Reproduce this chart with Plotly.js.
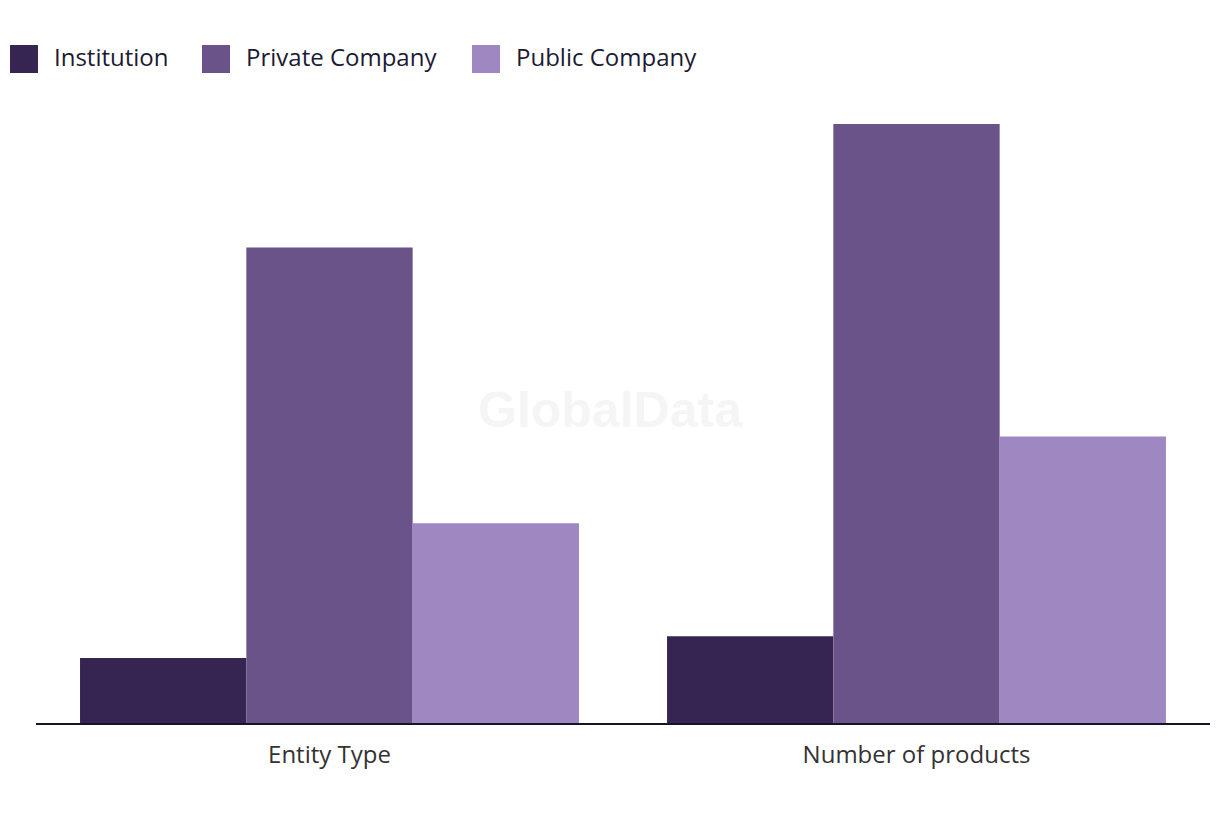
<!DOCTYPE html>
<html>
<head>
<meta charset="utf-8">
<script src="https://cdn.plot.ly/plotly-3.0.1.min.js"></script>
<style>html,body{margin:0;padding:0;background:#fff;}#chart{width:1220px;height:820px;}</style>
</head>
<body>
<div id="chart"></div>
<script>
const categories = ["Entity Type", "Number of products"];
const seriesNames = ["Institution", "Private Company", "Public Company"];
const institution = [3, 4];
const privateCompany = [21.9, 27.6];
const publicCompany = [9.2, 13.2];
const seriesColors = ["#362452", "#695388", "#9f88c1"];

const seriesValues = [institution, privateCompany, publicCompany];
const traces = seriesNames.map((name, i) => ({
  type: "bar",
  name: name,
  x: categories,
  y: seriesValues[i],
  marker: {color: seriesColors[i], line: {width: 0}},
  hoverinfo: "none",
  showlegend: false
}));

// Custom legend (large squares) placed above the plot in paper coordinates
const W = 1174, H = 623; // plot area size in px
const legendX = [10, 202, 472]; // px from page left for squares
const shapes = [];
const annotations = [];
seriesNames.forEach((name, i) => {
  const x0 = (legendX[i] - 36) / W;
  const x1 = (legendX[i] + 28 - 36) / W;
  shapes.push({type: "rect", xref: "paper", yref: "paper", x0: x0, x1: x1,
    y0: (723 - 73) / H, y1: (723 - 45) / H, fillcolor: seriesColors[i], line: {width: 0}});
  annotations.push({xref: "paper", yref: "paper", x: (legendX[i] + 42 - 36) / W, y: (723 - 57) / H,
    xanchor: "left", yanchor: "middle", showarrow: false, text: name,
    font: {family: "Open Sans, sans-serif", size: 24, color: "#1c1b33"}});
});
annotations.push({xref: "paper", yref: "paper", x: (610 - 36) / W, y: (723 - 410) / H,
  xanchor: "center", yanchor: "middle", showarrow: false, text: "<b>GlobalData</b>",
  font: {family: "Liberation Sans, Arial, sans-serif", size: 50, color: "#f5f5f5"}});

const layout = {
  width: 1220, height: 820,
  margin: {l: 36, r: 10, t: 100, b: 97},
  paper_bgcolor: "#ffffff", plot_bgcolor: "#ffffff",
  barmode: "group", bargap: 0.15, bargroupgap: 0,
  showlegend: false,
  xaxis: {showgrid: false, zeroline: false, showline: true, linecolor: "#14142a", linewidth: 2,
    ticks: "", tickfont: {family: "Open Sans, sans-serif", size: 24, color: "#333333"}, ticklabelstandoff: 9},
  yaxis: {range: [0, 28.7], visible: false, showgrid: false, zeroline: false, fixedrange: true},
  shapes: shapes,
  annotations: annotations
};
Plotly.newPlot("chart", traces, layout, {displayModeBar: false, staticPlot: true});
</script>
</body>
</html>
